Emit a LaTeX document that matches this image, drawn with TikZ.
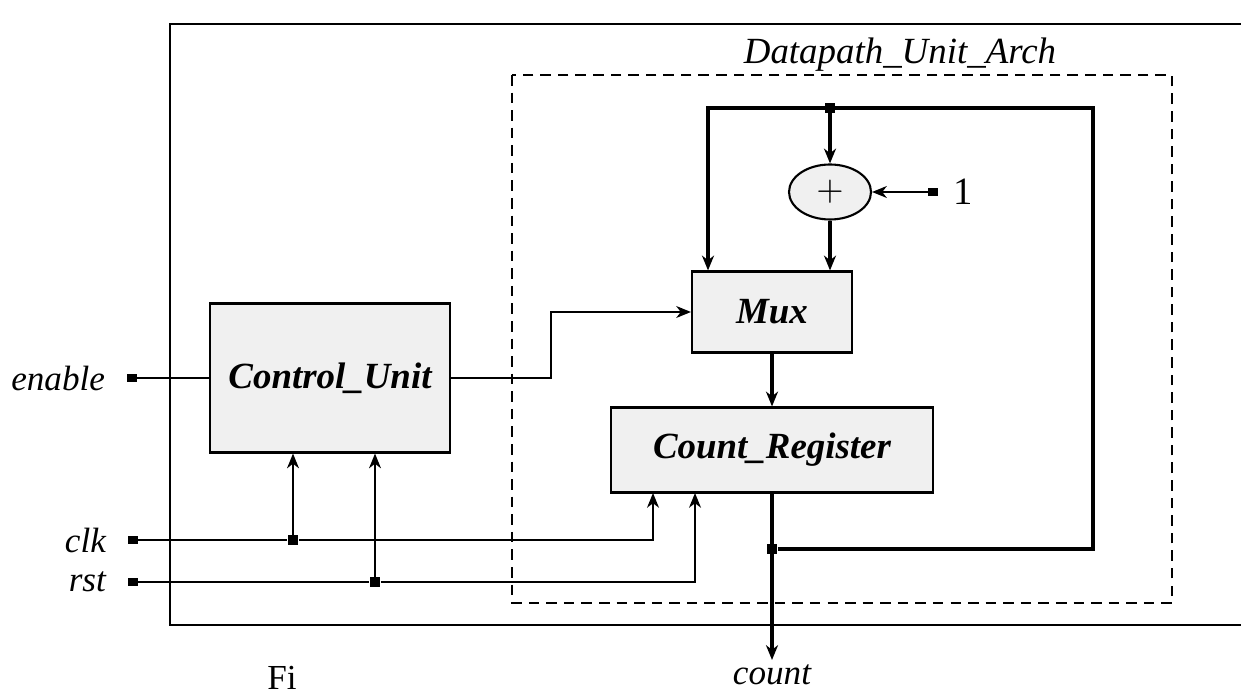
\documentclass[tikz,border=0pt]{standalone}
\usepackage{fontspec}
\setmainfont{Liberation Serif}
\usetikzlibrary{arrows.meta,shapes.geometric,positioning}

\begin{document}
\begin{tikzpicture}[x=0.1mm, y=-0.1mm,
  >={Stealth[length=4.2pt,width=3.4pt,inset=1.3pt]},
  wire/.style={line width=0.45pt},
  bus/.style={line width=1pt},
  unit/.style={draw, line width=0.6pt, fill=gray!12, inner sep=0pt,
    font=\fontsize{10.5}{12}\selectfont\bfseries\itshape},
  term/.style={fill=black, inner sep=0pt, minimum width=2.6pt, minimum height=2.1pt},
  joint/.style={fill=black, inner sep=0pt, minimum width=3pt, minimum height=2.6pt},
  sig/.style={inner sep=1pt, font=\fontsize{10}{12}\selectfont\itshape}]

  \useasboundingbox (0,0) rectangle (1241,699);

  % Kaders
  \draw[wire] (1241,24) -- (170,24) -- (170,625) -- (1241,625);
  \draw[wire, dash pattern=on 3pt off 2pt] (512,75) rectangle (1172,603);
  \node[sig, font=\fontsize{10.5}{12}\selectfont\itshape] (dplabel) at (900,55) {Datapath\_Unit\_Arch};

  % Blokken
  \node[unit, minimum width=24mm, minimum height=14.9mm] (cu)  at (330,378) {Control\_Unit};
  \node[unit, minimum width=16mm, minimum height=8.1mm]  (mux) at (772,312) {Mux};
  \node[unit, minimum width=32.2mm, minimum height=8.5mm] (reg) at (772,450) {Count\_Register};
  \node[draw, ellipse, line width=0.6pt, fill=gray!12, minimum width=8.2mm, minimum height=5.5mm,
        inner sep=0pt] (add) at (830,192) {$+$};

  % Aansluitingen
  \node[term] (en)  at (132,378) {};
  \node[term] (clk) at (133,540) {};
  \node[term] (rst) at (133,582) {};
  \node[term] (one) at (933,192) {};
  \node[sig, left=5pt of en]  {enable};
  \node[sig, left=5pt of clk] {clk};
  \node[sig, left=5pt of rst] {rst};
  \node[right=3pt of one, inner sep=1pt, font=\fontsize{11}{12}\selectfont] {1};

  % Knooppunten
  \node[joint] (jclk) at (293,540) {};
  \node[joint] (jrst) at (375,582) {};
  \node[joint] (jtop) at (830,108) {};
  \node[joint] (jfb)  at (772,549) {};
  \coordinate (tl)   at (708,108);
  \coordinate (tr)   at (1093,108);
  \coordinate (rclk) at (653,493);
  \coordinate (rrst) at (695,493);
  \coordinate (cnt)  at (772,660);
  \node[sig, below=0pt of cnt] {count};

  % Besturing
  \draw[wire] (en) -- (cu.west);
  \draw[wire, ->] (cu.east) -- ++(100,0) |- (mux.west);
  \draw[wire, ->] (clk) -- (jclk) -| (rclk);
  \draw[wire, ->] (rst) -- (jrst) -| (rrst);
  \draw[wire, ->] (jclk) -- (jclk |- cu.south);
  \draw[wire, ->] (jrst) -- (jrst |- cu.south);
  \draw[wire, ->] (one) -- (add.east);

  % Datapad
  \draw[bus, ->] (jfb) -| (tr) -- (tl) -- (tl |- mux.north);
  \draw[bus, ->] (jtop) -- (add.north);
  \draw[bus, ->] (add.south) -- (add.south |- mux.north);
  \draw[bus, ->] (mux.south) -- (reg.north);
  \draw[bus, ->] (reg.south) -- (cnt);

  % Bijschrift
  \node[inner sep=0pt, font=\fontsize{10}{11}\selectfont] (cap) at (282,678) {Fi};

\end{tikzpicture}
\end{document}
